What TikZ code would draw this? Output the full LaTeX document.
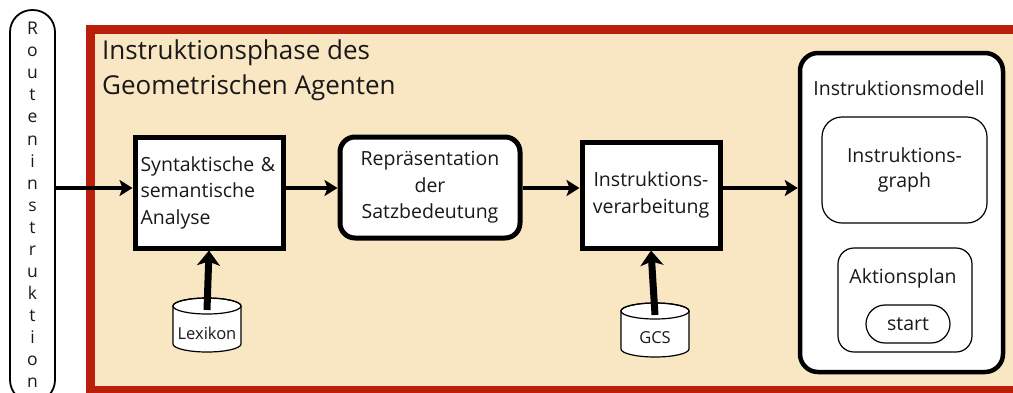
\documentclass[tikz,border=0pt]{standalone}
\usepackage{fontspec}
\setmainfont{Open Sans}
\usetikzlibrary{arrows.meta,calc}
\pgfdeclarelayer{frame}
\pgfdeclarelayer{under}
\pgfsetlayers{frame,under,main}
\definecolor{framered}{RGB}{187,30,11}
\definecolor{phasebg}{RGB}{249,231,195}
\definecolor{ink}{RGB}{25,25,25}
\tikzset{
  boxtext/.style={font=\fontsize{19.5}{26.5}\selectfont, text=ink},
  stepbox/.style={boxtext, draw=black, fill=white, line width=5pt, inner sep=0pt},
  softbox/.style={stepbox, rounded corners=15pt},
  thinbox/.style={boxtext, draw=black, fill=white, line width=1.2pt, inner sep=0pt},
  dbtext/.style={font=\fontsize{16.5}{18}\selectfont, text=ink, inner sep=0pt},
  cyl/.style={draw=black, fill=white, line width=1.2pt},
  arr/.style={line width=4.5pt, -{Stealth[length=13pt,width=16pt,inset=3pt]}},
  varr/.style={line width=7pt, -{Stealth[length=15pt,width=23pt,inset=4pt]}},
}
\begin{document}
\begin{tikzpicture}[x=1pt,y=-1pt]
\clip (0,0) rectangle (1013,392);

% page and phase frame
\begin{pgfonlayer}{frame}
  \fill[white] (0,0) rectangle (1013,392);
  \draw[framered, line width=9pt, fill=phasebg] (90.5,29.5) rectangle (1030,390.5);
\end{pgfonlayer}

% input pill with its vertical caption
\node[draw=black, line width=1.8pt, rounded corners=22pt, inner sep=0pt,
      minimum width=45pt, minimum height=392pt] (route) at (32.5,206) {};
\node[anchor=north, align=center, inner sep=0pt, text=ink,
      font=\fontsize{17.5}{22.06}\selectfont] (routetext) at (32.5,22)
  {R\\o\\u\\t\\e\\n\\i\\n\\s\\t\\r\\u\\k\\t\\i\\o\\n};

% title
\node[anchor=north west, align=left, inner sep=0pt, text=ink,
      font=\fontsize{26}{35}\selectfont]
  (title) at (102,40) {Instruktionsphase des\\Geometrischen Agenten};

% processing steps
\node[stepbox, minimum width=148pt, minimum height=111pt,
      text width=137pt, align=left] (syn) at (209,192.5)
  {Syntaktische \&\\semantische\\Analyse};
\node[softbox, minimum width=180pt, minimum height=101pt, align=center]
  (rep) at (430,187.5) {Repräsentation\\der\\Satzbedeutung};
\node[stepbox, minimum width=138pt, minimum height=106pt, align=center]
  (ver) at (651,195) {Instruktions-\\verarbeitung};

% instruction model
\node[draw=black, fill=white, line width=4.5pt, rounded corners=18pt,
      minimum width=203pt, minimum height=319pt] (model) at (901.5,212.5) {};
\node[boxtext, inner sep=0pt] (modeltitle) at (899,88) {Instruktionsmodell};
\node[thinbox, rounded corners=20pt, minimum width=165pt, minimum height=106pt,
      align=center, font=\fontsize{19.5}{25}\selectfont]
  (graph) at (904.5,170) {Instruktions-\\graph};
\node[thinbox, rounded corners=16pt, minimum width=134pt, minimum height=104pt]
  (plan) at (905,300) {};
\node[boxtext, inner sep=0pt] (plantitle) at (903,278) {Aktionsplan};
\node[thinbox, rounded corners=19pt, minimum width=84pt, minimum height=38pt]
  (start) at (908,324) {start};

% data stores: text sits in the cylinder body
\node[dbtext] (lex) at (207,333) {Lexikon};
\node[dbtext] (gcs) at (655,338) {GCS};
\begin{pgfonlayer}{under}
  \foreach \db in {lex,gcs}{
    \draw[cyl] ([shift={(-34pt,27pt)}]\db.center)
      -- ([shift={(-34pt,-11pt)}]\db.center)
      arc[start angle=180, end angle=360, x radius=34pt, y radius=8pt]
      -- ([shift={(34pt,27pt)}]\db.center)
      arc[start angle=0, end angle=180, x radius=34pt, y radius=8pt] -- cycle;
    \draw[cyl, fill=none] ([yshift=27pt]\db.center)
      ellipse[x radius=34pt, y radius=8pt];
  }
\end{pgfonlayer}

% flow
\coordinate (flow) at (0,188);
\draw[arr] (route.east |- flow) -- (syn.west |- flow);
\draw[arr] (syn.east |- flow) -- (rep.west |- flow);
\draw[arr] (rep.east |- flow) -- (ver.west |- flow);
\draw[arr] (ver.east |- flow) -- (model.west |- flow);
\draw[varr] ([yshift=23pt]lex.center) -- (syn.south);
\draw[varr] ([yshift=23pt]gcs.center) -- (ver.south);
\end{tikzpicture}
\end{document}
